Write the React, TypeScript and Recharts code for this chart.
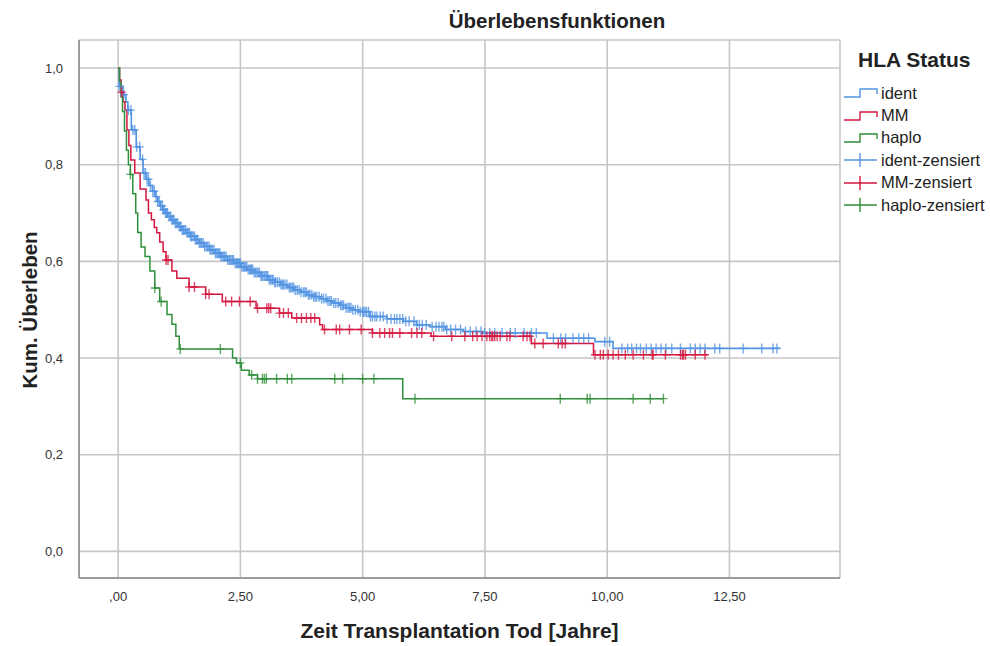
import React from 'react'
import {
  ComposedChart,
  Line,
  Scatter,
  XAxis,
  YAxis,
  CartesianGrid,
} from 'recharts'

// Kaplan-Meier step points (time in years, cumulative survival)
const identTimes = [0, 0.02, 0.1, 0.16, 0.2, 0.27, 0.37, 0.45, 0.51, 0.57, 0.63, 0.7, 0.76, 0.81, 0.86, 0.91, 0.96, 1.02, 1.08, 1.15, 1.23, 1.31, 1.39, 1.48, 1.57, 1.66, 1.76, 1.87, 1.98, 2.1, 2.23, 2.37, 2.51, 2.64, 2.78, 2.92, 3.07, 3.2, 3.33, 3.47, 3.6, 3.73, 3.86, 4.0, 4.13, 4.27, 4.4, 4.53, 4.66, 4.8, 4.92, 5.15, 5.5, 5.83, 6.1, 6.38, 6.7, 7.05, 7.45, 8.77, 9.75, 10.12]
const identSurv = [1.0, 0.962, 0.945, 0.93, 0.913, 0.872, 0.837, 0.811, 0.783, 0.77, 0.757, 0.745, 0.734, 0.724, 0.715, 0.707, 0.7, 0.693, 0.686, 0.679, 0.672, 0.665, 0.659, 0.652, 0.645, 0.638, 0.631, 0.624, 0.617, 0.61, 0.603, 0.596, 0.589, 0.583, 0.577, 0.57, 0.562, 0.557, 0.552, 0.546, 0.541, 0.536, 0.531, 0.527, 0.523, 0.518, 0.514, 0.509, 0.504, 0.5, 0.496, 0.486, 0.481, 0.476, 0.469, 0.465, 0.459, 0.455, 0.452, 0.441, 0.434, 0.42]
const identEnd = 13.53

const mmTimes = [0, 0.03, 0.06, 0.1, 0.14, 0.18, 0.22, 0.26, 0.34, 0.45, 0.57, 0.62, 0.68, 0.74, 0.79, 0.85, 0.92, 0.98, 1.1, 1.2, 1.45, 1.79, 2.13, 2.82, 3.3, 3.55, 4.12, 4.18, 5.2, 6.4, 8.45, 9.72]
const mmSurv = [1.0, 0.975, 0.95, 0.93, 0.913, 0.872, 0.84, 0.81, 0.783, 0.75, 0.727, 0.7, 0.686, 0.67, 0.659, 0.64, 0.62, 0.603, 0.58, 0.565, 0.547, 0.532, 0.517, 0.503, 0.493, 0.483, 0.469, 0.459, 0.452, 0.445, 0.43, 0.407]
const mmEnd = 12.05

const haploTimes = [0, 0.03, 0.06, 0.09, 0.13, 0.17, 0.21, 0.25, 0.3, 0.36, 0.4, 0.47, 0.55, 0.65, 0.75, 0.85, 1.0, 1.1, 1.18, 1.25, 2.34, 2.42, 2.52, 2.68, 2.85, 5.82]
const haploSurv = [1.0, 0.97, 0.94, 0.91, 0.87, 0.83, 0.8, 0.78, 0.74, 0.7, 0.66, 0.63, 0.61, 0.58, 0.545, 0.517, 0.49, 0.47, 0.445, 0.419, 0.4, 0.39, 0.375, 0.365, 0.357, 0.316]
const haploEnd = 11.15

// censoring times (years)
const identCensored = [0.03, 0.12, 0.21, 0.26, 0.3, 0.34, 0.38, 0.44, 0.5, 0.53, 0.56, 0.59, 0.62, 0.66, 0.71, 0.74, 0.78, 0.81, 0.84, 0.87, 0.9, 0.92, 0.94, 0.97, 0.99, 1.01, 1.04, 1.07, 1.1, 1.12, 1.14, 1.17, 1.19, 1.22, 1.26, 1.28, 1.31, 1.33, 1.35, 1.38, 1.41, 1.43, 1.46, 1.48, 1.5, 1.53, 1.56, 1.58, 1.61, 1.63, 1.66, 1.69, 1.71, 1.74, 1.77, 1.8, 1.83, 1.86, 1.88, 1.9, 1.93, 1.96, 1.99, 2.02, 2.04, 2.06, 2.08, 2.1, 2.13, 2.16, 2.18, 2.21, 2.24, 2.27, 2.29, 2.31, 2.34, 2.36, 2.39, 2.42, 2.44, 2.46, 2.48, 2.5, 2.53, 2.56, 2.58, 2.61, 2.63, 2.66, 2.69, 2.71, 2.73, 2.75, 2.78, 2.81, 2.84, 2.86, 2.89, 2.92, 2.94, 2.96, 2.99, 3.02, 3.04, 3.06, 3.09, 3.12, 3.15, 3.17, 3.2, 3.22, 3.26, 3.3, 3.33, 3.36, 3.38, 3.41, 3.45, 3.5, 3.53, 3.56, 3.59, 3.62, 3.66, 3.7, 3.74, 3.79, 3.82, 3.85, 3.89, 3.92, 3.96, 4.0, 4.03, 4.06, 4.11, 4.16, 4.2, 4.25, 4.29, 4.33, 4.36, 4.41, 4.45, 4.5, 4.55, 4.58, 4.61, 4.66, 4.7, 4.73, 4.76, 4.8, 4.85, 4.9, 4.95, 5.0, 5.02, 5.05, 5.08, 5.12, 5.16, 5.2, 5.25, 5.29, 5.36, 5.42, 5.5, 5.58, 5.65, 5.7, 5.76, 5.82, 5.88, 5.95, 6.05, 6.11, 6.16, 6.22, 6.3, 6.42, 6.5, 6.56, 6.62, 6.66, 6.72, 6.8, 6.9, 7.0, 7.1, 7.2, 7.32, 7.42, 7.5, 7.6, 7.7, 7.85, 8.02, 8.12, 8.3, 8.45, 8.55, 8.9, 9.05, 9.15, 9.3, 9.42, 9.52, 9.62, 9.95, 10.05, 10.3, 10.42, 10.5, 10.6, 10.68, 10.8, 10.9, 11.0, 11.1, 11.2, 11.32, 11.5, 11.7, 11.8, 11.9, 12.0, 12.2, 12.3, 12.78, 13.16, 13.39, 13.47]
const mmCensored = [0.07, 0.98, 1.02, 1.45, 1.56, 1.79, 1.86, 2.2, 2.32, 2.48, 2.7, 2.85, 3.04, 3.08, 3.12, 3.3, 3.38, 3.48, 3.65, 3.75, 3.85, 3.94, 4.02, 4.22, 4.46, 4.53, 4.73, 4.97, 5.2, 5.35, 5.45, 5.55, 5.61, 5.76, 6.0, 6.11, 6.21, 6.45, 6.82, 7.09, 7.25, 7.34, 7.44, 7.54, 7.6, 7.64, 7.66, 7.7, 7.75, 7.81, 7.95, 8.01, 8.28, 8.36, 8.42, 8.52, 8.69, 9.0, 9.08, 9.14, 9.75, 9.86, 9.92, 10.02, 10.12, 10.23, 10.37, 10.53, 10.74, 10.92, 10.94, 11.19, 11.5, 11.54, 11.56, 11.6, 11.8, 12.0]
const haploCensored = [0.25, 0.75, 0.88, 1.27, 2.09, 2.5, 2.73, 2.85, 2.95, 2.99, 3.03, 3.24, 3.46, 3.55, 4.43, 4.59, 5.0, 5.23, 6.07, 9.04, 9.59, 9.65, 10.53, 10.88, 11.15]

const X_TICKS = [0, 2.5, 5, 7.5, 10, 12.5]
const Y_TICKS = [0, 0.2, 0.4, 0.6, 0.8, 1.0]

const BLUE = '#5294e2'
const RED = '#d3173f'
const GREEN = '#2f8f3a'

const FONT = '"Liberation Sans", Arial, sans-serif'

type Pt = { t: number; s: number }

const toSteps = (times: number[], surv: number[], end: number): Pt[] => {
  const pts = times.map((t, i) => ({ t, s: surv[i] }))
  pts.push({ t: end, s: surv[surv.length - 1] })
  return pts
}

const survAt = (times: number[], surv: number[], t: number) => {
  let s = surv[0]
  for (let i = 0; i < times.length; i++) {
    if (times[i] <= t) s = surv[i]
  }
  return s
}

const toMarks = (cens: number[], times: number[], surv: number[]): Pt[] =>
  cens.map((t) => ({ t, s: survAt(times, surv, t) }))

const plusShape = (color: string) => (props: any) => {
  const { cx, cy } = props
  if (cx == null || cy == null) return <g />
  return (
    <path
      d={`M${cx - 4},${cy}H${cx + 4}M${cx},${cy - 5}V${cy + 5}`}
      stroke={color}
      strokeWidth={1.4}
      strokeOpacity={0.8}
      fill="none"
    />
  )
}

const fmtX = (v: number) => (v === 0 ? ',00' : v.toFixed(2).replace('.', ','))
const fmtY = (v: number) => v.toFixed(1).replace('.', ',')

const legendItems = [
  { label: 'ident', color: BLUE, kind: 'step' },
  { label: 'MM', color: RED, kind: 'step' },
  { label: 'haplo', color: GREEN, kind: 'step' },
  { label: 'ident-zensiert', color: BLUE, kind: 'mark' },
  { label: 'MM-zensiert', color: RED, kind: 'mark' },
  { label: 'haplo-zensiert', color: GREEN, kind: 'mark' },
]

const HlaLegend = () => (
  <div style={{ position: 'absolute', left: 843, top: 48, fontFamily: FONT, color: '#222' }}>
    <div style={{ fontWeight: 'bold', fontSize: 21, marginLeft: 15, marginBottom: 10 }}>HLA Status</div>
    {legendItems.map((it) => (
      <div key={it.label} style={{ display: 'flex', alignItems: 'center', height: 22.4, fontSize: 16.5 }}>
        <svg width={36} height={16} style={{ marginRight: 2 }}>
          {it.kind === 'step' ? (
            <path d="M1,12H17V4H34V9" stroke={it.color} strokeWidth={1.4} fill="none" />
          ) : (
            <path d="M1,8H34M17,1V15" stroke={it.color} strokeWidth={1.4} fill="none" />
          )}
        </svg>
        <span>{it.label}</span>
      </div>
    ))}
  </div>
)

const App = () => {
  const ident = toSteps(identTimes, identSurv, identEnd)
  const mm = toSteps(mmTimes, mmSurv, mmEnd)
  const haplo = toSteps(haploTimes, haploSurv, haploEnd)

  return (
    <div style={{ position: 'relative', width: 990, height: 646, background: '#fff', fontFamily: FONT }}>
      <style>{'body{margin:0}'}</style>
      <div style={{ position: 'absolute', top: 9, left: 0, width: 1114, textAlign: 'center', fontWeight: 'bold', fontSize: 20.5, color: '#222' }}>
        Überlebensfunktionen
      </div>
      <ComposedChart width={990} height={646} margin={{ top: 40, right: 150, bottom: 0, left: 0 }}>
        <CartesianGrid stroke="#c6c6c6" strokeWidth={1.6} />
        <XAxis
          type="number"
          dataKey="t"
          domain={[-0.8, 14.76]}
          ticks={X_TICKS}
          allowDataOverflow
          tickFormatter={fmtX}
          height={68}
          tickLine={false}
          tickSize={0}
          tickMargin={14}
          axisLine={{ stroke: '#8a8a8a', strokeWidth: 1.5 }}
          tick={{ fill: '#333', fontSize: 13, fontFamily: FONT }}
        />
        <YAxis
          type="number"
          dataKey="s"
          domain={[-0.055, 1.058]}
          ticks={Y_TICKS}
          allowDataOverflow
          tickFormatter={fmtY}
          width={79}
          tickLine={false}
          tickSize={0}
          tickMargin={16}
          axisLine={{ stroke: '#8a8a8a', strokeWidth: 1.5 }}
          tick={{ fill: '#333', fontSize: 13, fontFamily: FONT }}
        />
        <Line data={ident} dataKey="s" type="stepAfter" stroke={BLUE} strokeWidth={1.6} dot={false} isAnimationActive={false} />
        <Line data={mm} dataKey="s" type="stepAfter" stroke={RED} strokeWidth={1.5} dot={false} isAnimationActive={false} />
        <Line data={haplo} dataKey="s" type="stepAfter" stroke={GREEN} strokeWidth={1.5} dot={false} isAnimationActive={false} />
        <Scatter data={toMarks(identCensored, identTimes, identSurv)} dataKey="s" shape={plusShape(BLUE)} isAnimationActive={false} />
        <Scatter data={toMarks(mmCensored, mmTimes, mmSurv)} dataKey="s" shape={plusShape(RED)} isAnimationActive={false} />
        <Scatter data={toMarks(haploCensored, haploTimes, haploSurv)} dataKey="s" shape={plusShape(GREEN)} isAnimationActive={false} />
      </ComposedChart>
      <HlaLegend />
      <div style={{ position: 'absolute', top: 619, left: 79, width: 761, textAlign: 'center', fontWeight: 'bold', fontSize: 21, color: '#222' }}>
        Zeit Transplantation Tod [Jahre]
      </div>
      <div
        style={{
          position: 'absolute',
          left: 30,
          top: 310,
          transform: 'translate(-50%, -50%) rotate(-90deg)',
          whiteSpace: 'nowrap',
          fontWeight: 'bold',
          fontSize: 20.5,
          color: '#222',
        }}
      >
        Kum. Überleben
      </div>
    </div>
  )
}

export default App
